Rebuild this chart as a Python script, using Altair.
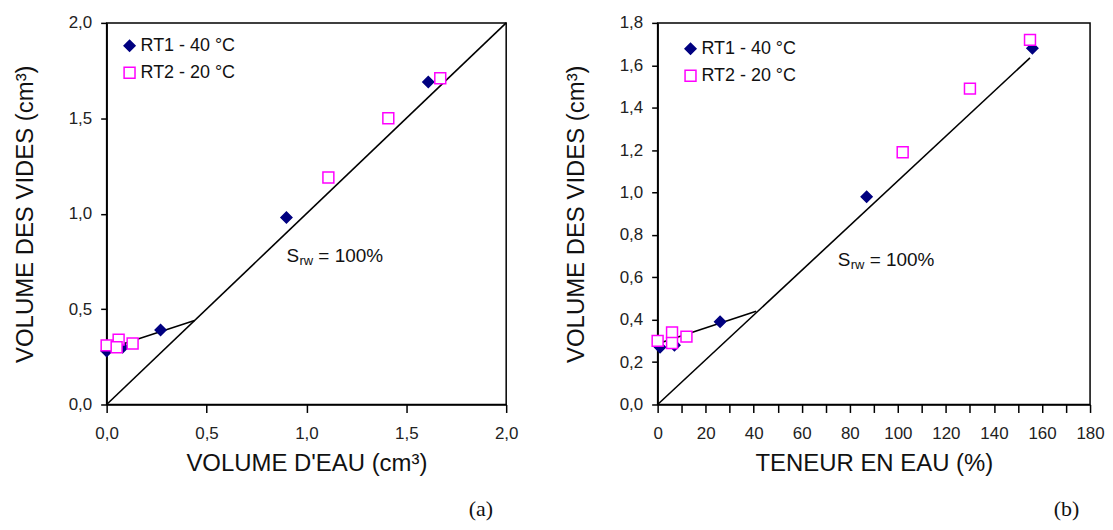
import altair as alt
import pandas as pd

SERIES = ["RT1 - 40 °C", "RT2 - 20 °C"]

# ---- Panel (a): VOLUME D'EAU vs VOLUME DES VIDES ----
a_rt1_x = [0.00, 0.08, 0.27, 0.90, 1.61]
a_rt1_y = [0.28, 0.30, 0.39, 0.98, 1.69]
a_rt2_x = [0.00, 0.06, 0.05, 0.13, 1.11, 1.41, 1.67]
a_rt2_y = [0.31, 0.34, 0.30, 0.32, 1.19, 1.50, 1.71]
a_sat_x = [0.0, 2.0]
a_sat_y = [0.0, 2.0]
a_fit_x = [0.0, 0.44]
a_fit_y = [0.29, 0.44]
a_ann = (0.90, 0.78)
a_xticks = [0.0, 0.5, 1.0, 1.5, 2.0]
a_yticks = [0.0, 0.5, 1.0, 1.5, 2.0]

# ---- Panel (b): TENEUR EN EAU vs VOLUME DES VIDES ----
b_rt1_x = [1, 7, 26, 87, 156]
b_rt1_y = [0.27, 0.28, 0.39, 0.98, 1.68]
b_rt2_x = [0, 6, 6, 12, 102, 130, 155]
b_rt2_y = [0.30, 0.34, 0.29, 0.32, 1.19, 1.49, 1.72]
b_sat_x = [0, 155]
b_sat_y = [0.0, 1.635]
b_fit_x = [0, 41]
b_fit_y = [0.287, 0.44]
b_ann = (75, 0.68)
b_xticks = [0, 10, 20, 30, 40, 50, 60, 70, 80, 90, 100, 110, 120, 130, 140, 150, 160, 170, 180]
b_yticks = [0.0, 0.2, 0.4, 0.6, 0.8, 1.0, 1.2, 1.4, 1.6, 1.8]

FONT = "Liberation Sans"
COMMA = "replace(format(datum.value, '.1f'), '.', ',')"


def panel(rt1x, rt1y, rt2x, rt2y, satx, saty, fitx, fity, ann,
          xdom, xticks, xlabel_expr, xtitle, ydom, yticks, w, h, tag, legxy):
    pts = pd.DataFrame({
        "x": rt1x + rt2x,
        "y": rt1y + rt2y,
        "serie": [SERIES[0]] * len(rt1x) + [SERIES[1]] * len(rt2x),
    })
    sat = pd.DataFrame({"x": satx, "y": saty})
    fit = pd.DataFrame({"x": fitx, "y": fity})
    ann_df = pd.DataFrame({"x": [ann[0]], "y": [ann[1]]})

    xs = alt.Scale(domain=xdom, nice=False, zero=False)
    ys = alt.Scale(domain=ydom, nice=False, zero=False)
    xa = alt.Axis(values=xticks, labelExpr=xlabel_expr, title=xtitle, tickSize=8,
                  labelPadding=13, titlePadding=10, labelOverlap=False,
                  labelFlush=False, grid=False)
    ya = alt.Axis(values=yticks, labelExpr=COMMA, title="VOLUME DES VIDES (cm³)", tickSize=6,
                  labelPadding=9, titlePadding=31, labelOverlap=False,
                  labelFlush=False, grid=False)
    X = alt.X("x:Q", scale=xs, axis=xa)
    Y = alt.Y("y:Q", scale=ys, axis=ya)

    leg = alt.Legend(title=None, orient="none", legendX=legxy[0], legendY=legxy[1], padding=0,
                     labelFont=FONT, labelFontSize=18, labelColor="#111",
                     symbolSize=120, symbolStrokeWidth=1.5, labelOffset=2,
                     rowPadding=9)

    line_sat = alt.Chart(sat).mark_line(color="black", strokeWidth=1.6).encode(x=X, y=Y)
    line_fit = alt.Chart(fit).mark_line(color="black", strokeWidth=1.6).encode(x=X, y=Y)
    points = alt.Chart(pts).mark_point(size=120, strokeWidth=1.5, opacity=1).encode(
        x=X, y=Y,
        shape=alt.Shape("serie:N", scale=alt.Scale(domain=SERIES, range=["diamond", "square"]), legend=leg),
        fill=alt.Fill("serie:N", scale=alt.Scale(domain=SERIES, range=["#000080", "white"]), legend=leg),
        stroke=alt.Stroke("serie:N", scale=alt.Scale(domain=SERIES, range=["#000080", "#FF00FF"]), legend=leg),
    )
    t_s = alt.Chart(ann_df).mark_text(align="left", baseline="middle", font=FONT,
                                      fontSize=19, color="#111").encode(x=X, y=Y, text=alt.value("S"))
    t_rw = alt.Chart(ann_df).mark_text(align="left", baseline="middle", font=FONT,
                                       fontSize=13, color="#111", dx=13, dy=5).encode(x=X, y=Y, text=alt.value("rw"))
    t_eq = alt.Chart(ann_df).mark_text(align="left", baseline="middle", font=FONT,
                                       fontSize=19, color="#111", dx=32).encode(x=X, y=Y, text=alt.value("= 100%"))

    return alt.layer(line_sat, line_fit, points, t_s, t_rw, t_eq).properties(
        width=w, height=h,
        title=alt.TitleParams(tag, orient="bottom", anchor="end", font="Liberation Serif",
                              fontSize=22, fontWeight="normal", color="#111", offset=24, dx=-25),
    )


left = panel(a_rt1_x, a_rt1_y, a_rt2_x, a_rt2_y, a_sat_x, a_sat_y, a_fit_x, a_fit_y, a_ann,
             [0, 2], a_xticks, COMMA, "VOLUME D'EAU (cm³)", [0, 2], a_yticks, 401, 383, "(a)",
             (14, 14))
right = panel(b_rt1_x, b_rt1_y, b_rt2_x, b_rt2_y, b_sat_x, b_sat_y, b_fit_x, b_fit_y, b_ann,
              [0, 180], b_xticks, "datum.value % 20 == 0 ? format(datum.value, 'd') : ''",
              "TENEUR EN EAU (%)", [0, 1.8], b_yticks, 434, 383, "(b)",
              (24, 17))

chart = alt.hconcat(left, right, spacing=44).resolve_scale(
    shape="independent", fill="independent", stroke="independent"
).resolve_legend(
    shape="independent", fill="independent", stroke="independent"
).properties(
    padding={"left": 4, "top": 4, "right": 0, "bottom": 0},
    background="white",
).configure_view(
    stroke="black", strokeWidth=1.5
).configure_axis(
    domainColor="black", domainWidth=1.5, tickColor="black", tickWidth=1.5,
    labelFont=FONT, labelFontSize=17, labelColor="#222",
    titleFont=FONT, titleFontSize=24, titleFontWeight="normal", titleColor="#111",
    grid=False,
)

chart.save("out.html", embed_options={"renderer": "svg", "actions": False})
